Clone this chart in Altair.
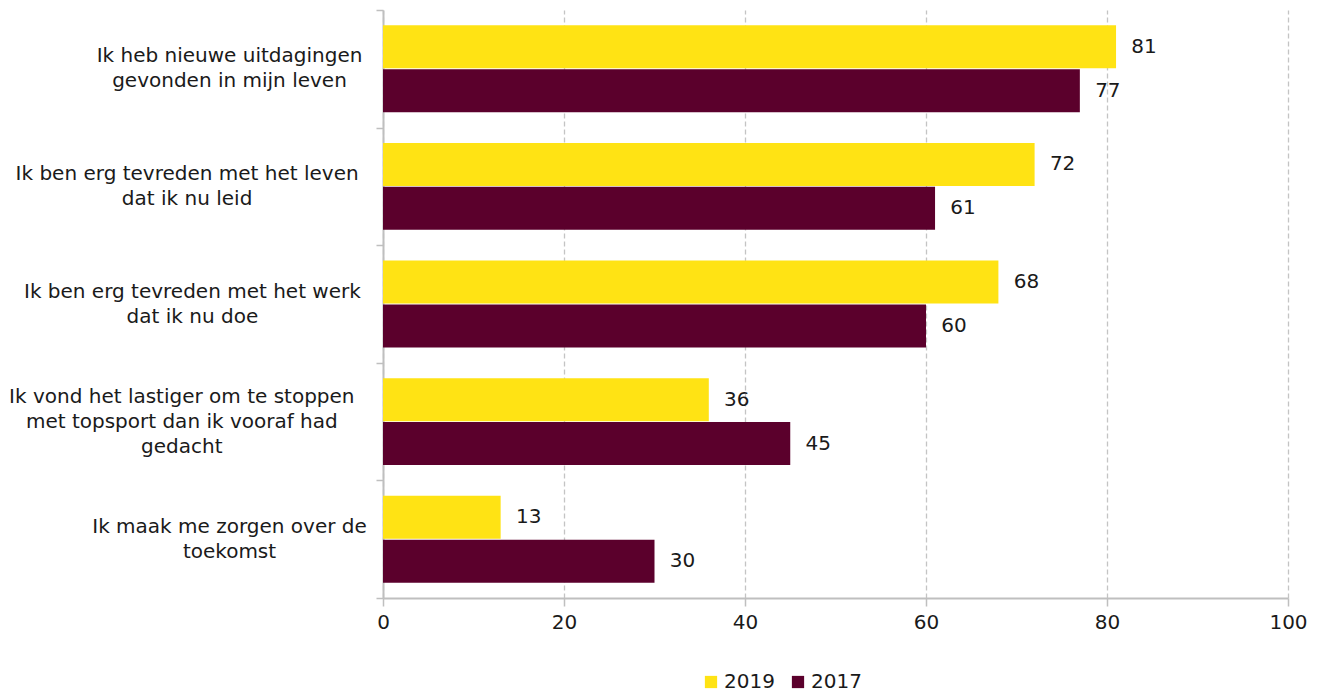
import altair as alt
import pandas as pd

categories = [
    "Ik heb nieuwe uitdagingen|gevonden in mijn leven",
    "Ik ben erg tevreden met het leven|dat ik nu leid",
    "Ik ben erg tevreden met het werk|dat ik nu doe",
    "Ik vond het lastiger om te stoppen|met topsport dan ik vooraf had|gedacht",
    "Ik maak me zorgen over de|toekomst",
]
years = ["2019", "2017"]
v2019 = [81, 72, 68, 36, 13]
v2017 = [77, 61, 60, 45, 30]
colors = ["#FFE314", "#5B002C"]
x_ticks = [0, 20, 40, 60, 80, 100]

rows = []
for c, a, b in zip(categories, v2019, v2017):
    rows.append({"cat": c, "year": "2019", "value": a})
    rows.append({"cat": c, "year": "2017", "value": b})
df = pd.DataFrame(rows)

lab = pd.DataFrame({
    "cat": categories,
    "maxlen": [max(len(s) for s in c.split("|")) for c in categories],
    "nlines": [len(c.split("|")) for c in categories],
})

FONT = "DejaVu Sans"
TXT = "#1a1a1a"

y_enc = alt.Y("cat:N", sort=categories, title=None,
              scale=alt.Scale(paddingInner=0, paddingOuter=0),
              axis=alt.Axis(labels=False, ticks=True, tickBand="extent", tickSize=7,
                            tickColor="#bfbfbf", tickWidth=1.5,
                            domainColor="#bfbfbf", domainWidth=2, grid=False))

bars = alt.Chart(df).mark_bar().encode(
    x=alt.X("value:Q", title=None,
            scale=alt.Scale(domain=[0, 100], nice=False),
            axis=alt.Axis(values=x_ticks, grid=True, gridDash=[5, 3], gridColor="#c4c4c4",
                          gridWidth=1.3, tickSize=8, tickColor="#bfbfbf", tickWidth=1.5,
                          domainColor="#bfbfbf", domainWidth=2, labelPadding=6,
                          labelFlush=False, labelFontSize=20, labelColor=TXT,
                          labelFont=FONT)),
    y=y_enc,
    yOffset=alt.YOffset("year:N", sort=years,
                        scale=alt.Scale(paddingInner=0.02, paddingOuter=0.35)),
    color=alt.Color("year:N", sort=years,
                    scale=alt.Scale(domain=years, range=colors),
                    legend=alt.Legend(title=None, orient="none", legendX=318, legendY=662,
                                      direction="horizontal", symbolType="square",
                                      symbolSize=150, symbolStrokeWidth=0,
                                      labelFontSize=20, labelFont=FONT, labelColor=TXT,
                                      labelOffset=3, columnPadding=13)),
)

vals = alt.Chart(df).mark_text(align="center", baseline="middle", dx=28,
                               fontSize=20, font=FONT, color=TXT).encode(
    x=alt.X("value:Q"),
    y=alt.Y("cat:N", sort=categories),
    yOffset=alt.YOffset("year:N", sort=years),
    text=alt.Text("value:Q"),
)

ylabels = alt.Chart(lab).transform_calculate(
    lx="-21 - 5.3 * datum.maxlen"
).mark_text(align="center", baseline="middle", lineBreak="|", lineHeight=25,
            fontSize=20, font=FONT, color=TXT,
            dy=alt.ExprRef("-12.5 * (datum.nlines - 1)")).encode(
    x=alt.X("lx:Q", scale=None, axis=None),
    y=alt.Y("cat:N", sort=categories),
    text=alt.Text("cat:N"),
)

chart = alt.layer(bars, vals, ylabels).properties(
    width=905, height=588,
    autosize=alt.AutoSizeParams(type="none"),
    padding={"left": 375, "top": 2, "right": 30, "bottom": 95},
).configure(font=FONT).configure_view(stroke=None)

chart.save("out.html", embed_options={"renderer": "svg", "actions": False})
